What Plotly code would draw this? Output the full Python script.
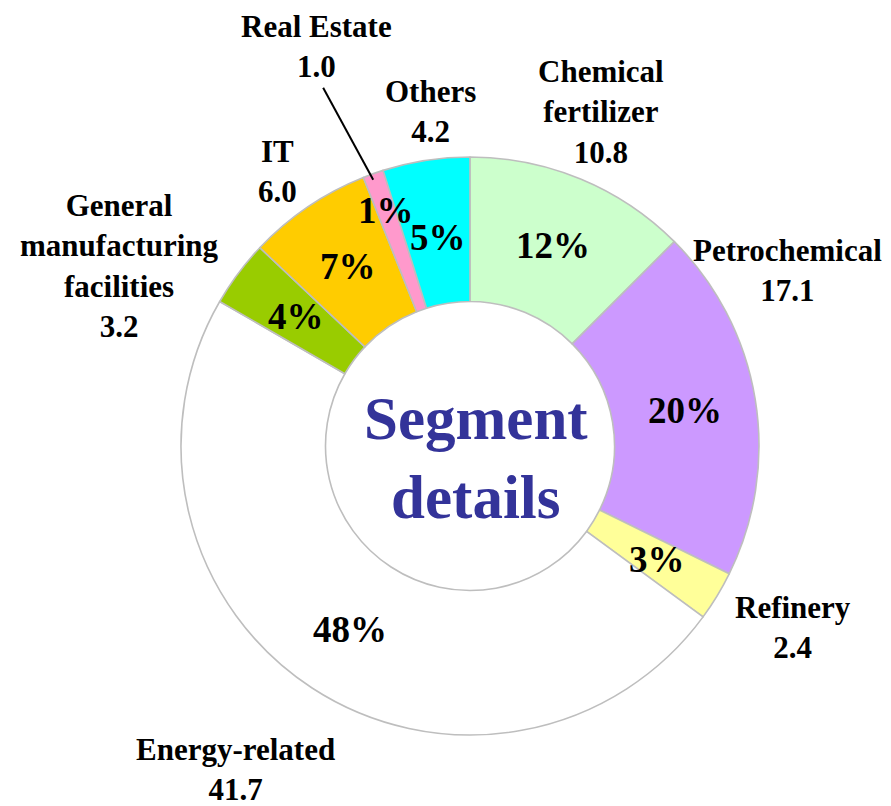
import math
import plotly.graph_objects as go

# ---- data ----
segments = ["Chemical<br>fertilizer", "Petrochemical", "Refinery", "Energy-related",
            "General<br>manufacturing<br>facilities", "IT", "Real Estate", "Others"]
values = [10.8, 17.1, 2.4, 41.7, 3.2, 6.0, 1.0, 4.2]
pct_labels = ["12%", "20%", "3%", "48%", "4%", "7%", "1%", "5%"]
value_labels = ["10.8", "17.1", "2.4", "41.7", "3.2", "6.0", "1.0", "4.2"]
center_title = "Segment<br>details"

# ---- style ----
colors = ["#CCFFCC", "#CC99FF", "#FFFF99", "#FFFFFF", "#99CC00", "#FFCC00", "#FF99CC", "#00FFFF"]
W, H = 883, 798                     # page body has an 8px margin
CX, CY, R = 462, 438, 289           # pie centre / radius in figure pixels
pct_r = [0.75, 0.755, 0.755, 0.76, 0.75, 0.75, 0.865, 0.73]
name_r = [1.242, 1.255, 1.281, 1.383, 1.362, 1.162, 1.48, 1.164]
name_shift = [-1.1, -19.6, -1.9, 2.8, -9.5, -0.9, -1.4, 1.95]   # degrees
FONT = "Liberation Serif, Times New Roman, serif"


def px2paper(px, py):
    return px / W, 1 - py / H


def polar(angle_deg, rfac):
    a = math.radians(angle_deg)
    return CX + R * rfac * math.sin(a), CY - R * rfac * math.cos(a)


total = sum(values)
mids = []
cum = 0.0
for v in values:
    mids.append((cum + v / 2) / total * 360)
    cum += v

fig = go.Figure(go.Pie(
    labels=[s.replace("<br>", " ") for s in segments],
    values=values,
    sort=False,
    direction="clockwise",
    rotation=0,
    hole=0.5,
    textinfo="none",
    hoverinfo="label+value+percent",
    marker=dict(colors=colors, line=dict(color="#BEBEBE", width=1.6)),
    domain=dict(x=[(CX - R) / W, (CX + R) / W], y=[1 - (CY + R) / H, 1 - (CY - R) / H]),
    showlegend=False,
))

annotations = []
for i in range(len(values)):
    # percentage inside ring
    x, y = px2paper(*polar(mids[i], pct_r[i]))
    annotations.append(dict(x=x, y=y, xref="paper", yref="paper", text=pct_labels[i],
                            showarrow=False, xanchor="center", yanchor="middle",
                            font=dict(family=FONT, size=37, color="black", weight="bold")))
    # name + value outside
    x, y = px2paper(*polar(mids[i] + name_shift[i], name_r[i]))
    annotations.append(dict(x=x, y=y, xref="paper", yref="paper",
                            text=segments[i] + "<br>" + value_labels[i],
                            showarrow=False, xanchor="center", yanchor="middle", align="center",
                            font=dict(family=FONT, size=31, color="black", weight="bold")))

# centre title
tx, ty = px2paper(CX + 6, CY + 12)
annotations.append(dict(x=tx, y=ty, xref="paper", yref="paper", text=center_title,
                        showarrow=False, xanchor="center", yanchor="middle", align="center",
                        font=dict(family=FONT, size=61, color="#333399", weight="bold")))

# leader line for Real Estate
re_idx = 6
x0, y0 = px2paper(*polar(mids[re_idx] - 2.7, 1.34))
x1, y1 = px2paper(*polar(mids[re_idx] - 0.4, 0.98))
shapes = [dict(type="line", xref="paper", yref="paper", x0=x0, y0=y0, x1=x1, y1=y1,
               line=dict(color="black", width=2))]

fig.update_layout(
    width=W, height=H,
    margin=dict(l=0, r=0, t=0, b=0),
    paper_bgcolor="white", plot_bgcolor="white",
    annotations=annotations, shapes=shapes,
)
fig.write_html("out.html")
